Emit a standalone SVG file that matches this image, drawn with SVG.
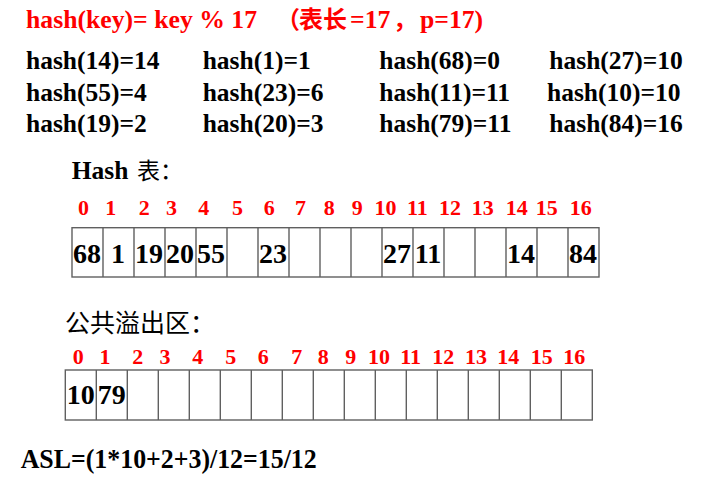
<svg xmlns="http://www.w3.org/2000/svg" width="704" height="481" viewBox="0 0 704 481">
<style>
.t{font-family:"Liberation Serif","Times New Roman",serif;font-weight:bold;fill:#000}
.r{font-family:"Liberation Serif","Times New Roman",serif;font-weight:bold;fill:#ff0000}
.cr{font-family:"Noto Sans CJK SC",sans-serif;font-weight:bold;fill:#ff0000}
.ck{font-family:"Noto Sans CJK SC",sans-serif;font-weight:normal;fill:#000}
.row{font-size:25.5px}
.idx{font-size:22px;text-anchor:middle}
.val{font-size:28px;text-anchor:middle}
.grid{fill:none;stroke:#606060;stroke-width:1.4}
</style>
<rect width="704" height="481" fill="#fff"/>
<g id="title">
<text class="r" x="26" y="27.5" font-size="25.7" textLength="231" lengthAdjust="spacingAndGlyphs">hash(key)= key % 17</text>
<text class="cr" x="276" y="28" font-size="24">（</text>
<text class="cr" x="299" y="28" font-size="24">表长</text>
<text class="r" x="350" y="27.5" font-size="25.7">=17</text>
<text class="cr" x="393" y="28" font-size="24">，</text>
<text class="r" x="420" y="27.5" font-size="25.7">p=17)</text>
</g>
<g id="hashes" class="t row">
<text class="t row" x="26" y="69.3">hash(14)=14</text>
<text class="t row" x="202.7" y="69.3">hash(1)=1</text>
<text class="t row" x="379.3" y="69.3">hash(68)=0</text>
<text class="t row" x="549.3" y="69.3">hash(27)=10</text>
<text class="t row" x="26" y="101">hash(55)=4</text>
<text class="t row" x="202.7" y="101">hash(23)=6</text>
<text class="t row" x="379.3" y="101">hash(11)=11</text>
<text class="t row" x="547" y="101">hash(10)=10</text>
<text class="t row" x="26" y="131.7">hash(19)=2</text>
<text class="t row" x="202.7" y="131.7">hash(20)=3</text>
<text class="t row" x="379.3" y="131.7">hash(79)=11</text>
<text class="t row" x="549.3" y="131.7">hash(84)=16</text>
</g>
<g id="hash-table-label">
<text class="t row" x="71.7" y="179.3">Hash</text>
<text class="ck" x="137" y="179" font-size="23">表：</text>
</g>
<g id="hash-table-index" class="r idx">
<text class="r idx" x="83.5" y="215">0</text>
<text class="r idx" x="110.8" y="215">1</text>
<text class="r idx" x="144.3" y="215">2</text>
<text class="r idx" x="171.5" y="215">3</text>
<text class="r idx" x="203.8" y="215">4</text>
<text class="r idx" x="237.5" y="215">5</text>
<text class="r idx" x="269.2" y="215">6</text>
<text class="r idx" x="300.5" y="215">7</text>
<text class="r idx" x="329.3" y="215">8</text>
<text class="r idx" x="357.3" y="215">9</text>
<text class="r idx" x="385.5" y="215">10</text>
<text class="r idx" x="417.3" y="215">11</text>
<text class="r idx" x="450" y="215">12</text>
<text class="r idx" x="482.7" y="215">13</text>
<text class="r idx" x="516.7" y="215">14</text>
<text class="r idx" x="546.7" y="215">15</text>
<text class="r idx" x="580.7" y="215">16</text>
</g>
<g id="hash-table">
<rect class="grid" x="72" y="227.7" width="527" height="49.3"/>
<path class="grid" d="M103 227.7V277M134 227.7V277M165 227.7V277M196 227.7V277M227 227.7V277M258 227.7V277M289 227.7V277M320 227.7V277M351 227.7V277M382 227.7V277M413 227.7V277M444 227.7V277M475 227.7V277M506 227.7V277M537 227.7V277M568 227.7V277"/>
<text class="t val" x="87" y="262.7">68</text>
<text class="t val" x="118" y="262.7">1</text>
<text class="t val" x="149" y="262.7">19</text>
<text class="t val" x="180" y="262.7">20</text>
<text class="t val" x="211" y="262.7">55</text>
<text class="t val" x="273" y="262.7">23</text>
<text class="t val" x="397" y="262.7">27</text>
<text class="t val" x="428" y="262.7">11</text>
<text class="t val" x="521" y="262.7">14</text>
<text class="t val" x="583" y="262.7">84</text>
</g>
<g id="overflow-label">
<text class="ck" x="65" y="332" font-size="25">公共溢出区：</text>
</g>
<g id="overflow-index">
<text class="r idx" x="78.3" y="364">0</text>
<text class="r idx" x="105" y="364">1</text>
<text class="r idx" x="137.7" y="364">2</text>
<text class="r idx" x="165" y="364">3</text>
<text class="r idx" x="197.7" y="364">4</text>
<text class="r idx" x="230.7" y="364">5</text>
<text class="r idx" x="263.3" y="364">6</text>
<text class="r idx" x="296.7" y="364">7</text>
<text class="r idx" x="323.3" y="364">8</text>
<text class="r idx" x="350.7" y="364">9</text>
<text class="r idx" x="379" y="364">10</text>
<text class="r idx" x="410.7" y="364">11</text>
<text class="r idx" x="443.3" y="364">12</text>
<text class="r idx" x="476" y="364">13</text>
<text class="r idx" x="508.3" y="364">14</text>
<text class="r idx" x="541.7" y="364">15</text>
<text class="r idx" x="574.3" y="364">16</text>
</g>
<g id="overflow-table">
<rect class="grid" x="65.3" y="370" width="527" height="50"/>
<path class="grid" d="M96.3 370V420M127.3 370V420M158.3 370V420M189.3 370V420M220.3 370V420M251.3 370V420M282.3 370V420M313.3 370V420M344.3 370V420M375.3 370V420M406.3 370V420M437.3 370V420M468.3 370V420M499.3 370V420M530.3 370V420M561.3 370V420"/>
<text class="t val" x="80.8" y="404">10</text>
<text class="t val" x="111.8" y="404">79</text>
</g>
<g id="asl">
<text class="t" x="20.7" y="468.3" font-size="27" textLength="296" lengthAdjust="spacingAndGlyphs">ASL=(1*10+2+3)/12=15/12</text>
</g>
<g id="connectors"/>
</svg>
